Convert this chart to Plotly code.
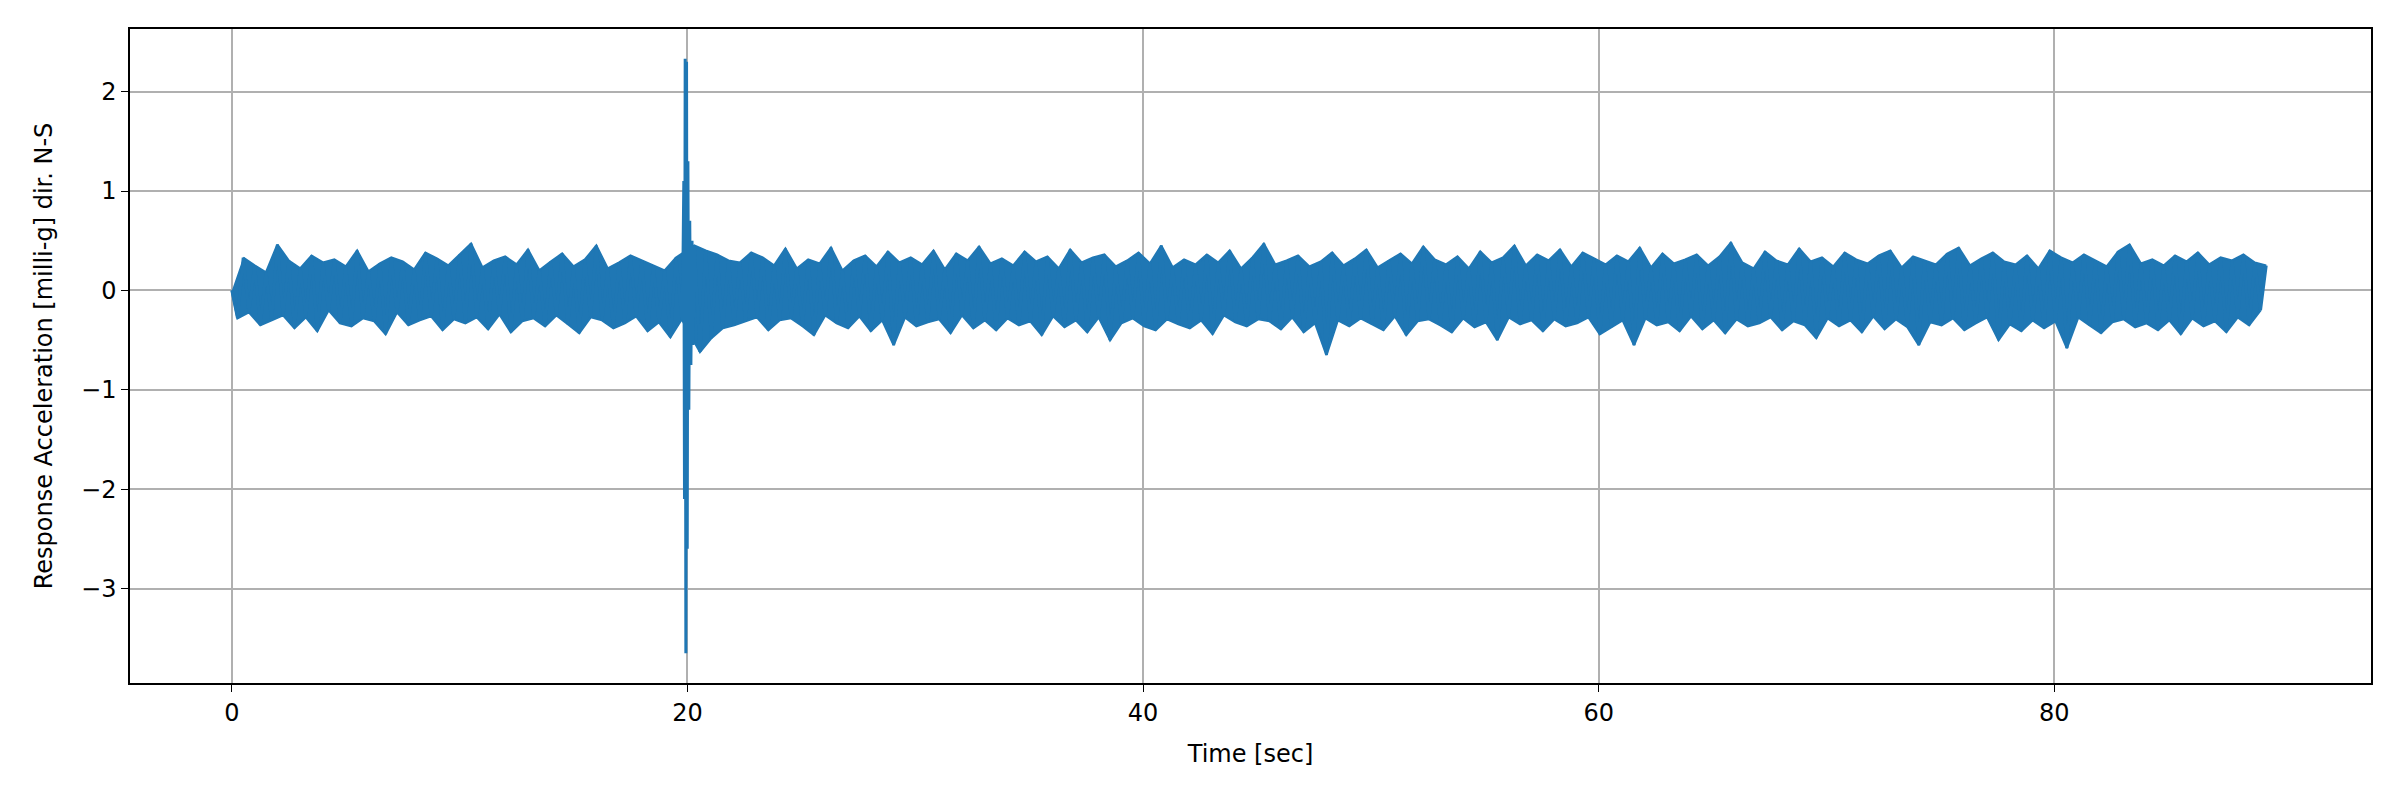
import numpy as np
import plotly.graph_objects as go

dt = 0.25
pre_vals = [0.0,-0.28,0.33,-0.22,0.25,-0.35,0.18,-0.3,0.46,-0.25,
0.3,-0.38,0.22,-0.27,0.35,-0.41,0.28,-0.2,0.31,-0.33,
0.24,-0.36,0.4,-0.28,0.19,-0.31,0.27,-0.44,0.33,-0.22,
0.29,-0.35,0.21,-0.3,0.38,-0.26,0.32,-0.4,0.25,-0.29,
0.36,-0.33,0.47,-0.27,0.23,-0.39,0.3,-0.24,0.34,-0.42,
0.26,-0.31,0.41,-0.28,0.2,-0.36,0.29,-0.25,0.37,-0.34,
0.24,-0.43,0.31,-0.27,0.45,-0.3,0.22,-0.38,0.28,-0.33,
0.35,-0.26,0.3,-0.41,0.25,-0.32,0.2,-0.47,0.33,-0.29]
burst_times = [19.8,19.84,19.87,19.9,19.93,19.96,19.99,20.02,20.06,20.1,20.15,20.2,20.25]
burst_vals = [0.2,1.1,-2.1,2.33,-3.65,2.3,-2.6,1.3,-1.2,0.7,-0.75,0.5,-0.55]
post_start = 20.3
post_vals = [0.45,-0.62,0.4,-0.48,0.36,-0.38,0.3,-0.35,0.28,-0.31,
0.38,-0.27,0.33,-0.4,0.25,-0.3,0.42,-0.28,0.22,-0.36,
0.31,-0.45,0.27,-0.25,0.43,-0.33,0.2,-0.38,0.3,-0.26,
0.35,-0.41,0.24,-0.3,0.39,-0.55,0.28,-0.27,0.33,-0.36,
0.26,-0.32,0.4,-0.29,0.21,-0.43,0.37,-0.25,0.3,-0.38,
0.44,-0.3,0.27,-0.4,0.32,-0.28,0.25,-0.35,0.39,-0.31,
0.29,-0.45,0.34,-0.26,0.22,-0.37,0.41,-0.3,0.28,-0.42,
0.33,-0.27,0.36,-0.5,0.24,-0.33,0.3,-0.28,0.38,-0.36,
0.27,-0.4,0.45,-0.29,0.23,-0.34,0.31,-0.38,0.26,-0.3,
0.36,-0.44,0.28,-0.25,0.4,-0.32,0.22,-0.36,0.33,-0.29,
0.47,-0.31,0.26,-0.39,0.3,-0.27,0.35,-0.42,0.24,-0.33,
0.29,-0.65,0.38,-0.3,0.25,-0.36,0.32,-0.28,0.41,-0.34,
0.23,-0.4,0.3,-0.26,0.37,-0.45,0.27,-0.31,0.44,-0.29,
0.31,-0.35,0.26,-0.42,0.34,-0.28,0.22,-0.37,0.39,-0.32,
0.28,-0.5,0.33,-0.27,0.45,-0.34,0.25,-0.3,0.36,-0.41,
0.3,-0.29,0.41,-0.36,0.24,-0.33,0.38,-0.27,0.32,-0.44,
0.26,-0.37,0.35,-0.3,0.29,-0.55,0.43,-0.28,0.23,-0.35,
0.37,-0.32,0.27,-0.41,0.31,-0.26,0.36,-0.39,0.25,-0.3,
0.34,-0.43,0.48,-0.29,0.28,-0.36,0.22,-0.33,0.39,-0.27,
0.3,-0.4,0.26,-0.31,0.42,-0.35,0.29,-0.48,0.33,-0.28,
0.24,-0.36,0.38,-0.3,0.31,-0.42,0.27,-0.26,0.35,-0.39,
0.4,-0.29,0.23,-0.37,0.34,-0.55,0.3,-0.32,0.26,-0.35,
0.37,-0.28,0.43,-0.4,0.25,-0.33,0.32,-0.27,0.38,-0.5,
0.29,-0.34,0.26,-0.41,0.35,-0.3,0.22,-0.38,0.4,-0.31,
0.33,-0.58,0.28,-0.27,0.36,-0.35,0.3,-0.43,0.24,-0.32,
0.39,-0.29,0.46,-0.37,0.27,-0.33,0.31,-0.4,0.25,-0.3,
0.35,-0.44,0.29,-0.28,0.38,-0.36,0.26,-0.31,0.33,-0.42,
0.3,-0.27,0.36,-0.35,0.28,-0.2,0.25]

t_pre = list(np.arange(len(pre_vals)) * dt)
t_post = list(post_start + np.arange(len(post_vals)) * dt)
t = t_pre + burst_times + t_post
y = pre_vals + burst_vals + post_vals

band_t = t_pre + t_post
band_v = pre_vals + post_vals
up_t = [a for a, v in zip(band_t, band_v) if v > 0]
up_v = [v for v in band_v if v > 0]
lo_t = [a for a, v in zip(band_t, band_v) if v <= 0]
lo_v = [v for v in band_v if v <= 0]

blue = "#1f77b4"
fig = go.Figure()
fig.add_trace(go.Scatter(x=lo_t, y=lo_v, mode="lines", line=dict(color=blue, width=2.3), showlegend=False))
fig.add_trace(go.Scatter(x=up_t, y=up_v, mode="lines", line=dict(color=blue, width=2.3),
                         fill="tonexty", fillcolor=blue, showlegend=False))
fig.add_trace(go.Scatter(x=t, y=y, mode="lines", line=dict(color=blue, width=3), showlegend=False))
ax = dict(showline=True, mirror=True, linecolor="black", linewidth=1.5, ticks="outside", ticklen=7,
          tickcolor="black", showgrid=True, gridcolor="#b0b0b0", gridwidth=1.5, zeroline=False,
          tickfont=dict(size=24, color="black"), title_font=dict(size=24, color="black"))
fig.update_xaxes(ax, range=[-4.47, 93.9], tickvals=[0, 20, 40, 60, 80], title_text="Time [sec]", title_standoff=20)
fig.update_yaxes(ax, range=[-3.95, 2.63], tickvals=[-3, -2, -1, 0, 1, 2],
                 ticktext=["\u22123", "\u22122", "\u22121", "0", "1", "2"],
                 title_text="Response Acceleration [milli-g] dir. N-S", title_standoff=22)
fig.update_layout(width=2400, height=800, margin=dict(l=122, r=37, t=21, b=125),
                  plot_bgcolor="white", paper_bgcolor="white",
                  font=dict(family="DejaVu Sans", color="black"))
fig.write_html("out.html")
